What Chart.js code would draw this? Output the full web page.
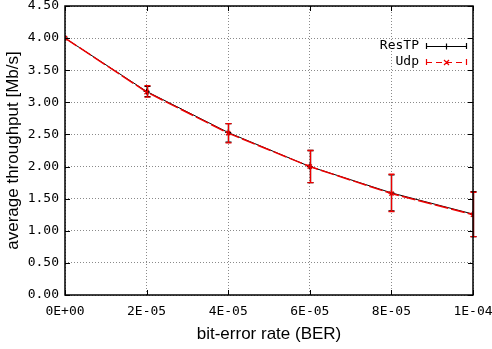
<!DOCTYPE html>
<html>
<head>
<meta charset="utf-8">
<script src="https://cdn.jsdelivr.net/npm/chart.js@4"></script>
<style>
  html, body { margin: 0; padding: 0; background: #fff; }
</style>
</head>
<body>
<canvas id="throughput-chart" width="492" height="349"></canvas>
<script>
// bit-error rate values (x axis)
const berValues = [0, 2e-5, 4e-5, 6e-5, 8e-5, 1e-4];
const xTickLabels = ['0E+00', '2E-05', '4E-05', '6E-05', '8E-05', '1E-04'];
const yTickValues = [0, 0.5, 1.0, 1.5, 2.0, 2.5, 3.0, 3.5, 4.0, 4.5];

// ResTP throughput + error bars
const restpMean = [4.00, 3.17, 2.53, 2.00, 1.59, 1.26];
const restpLow  = [4.00, 3.09, 2.38, 1.75, 1.31, 0.91];
const restpHigh = [4.00, 3.25, 2.67, 2.25, 1.87, 1.61];

// Udp throughput + error bars
const udpMean = [4.00, 3.16, 2.52, 2.00, 1.58, 1.25];
const udpLow  = [4.00, 3.08, 2.37, 1.75, 1.30, 0.91];
const udpHigh = [4.00, 3.26, 2.67, 2.25, 1.88, 1.60];

const monoFont = "'DejaVu Sans Mono', monospace";
const sansFont = "'Liberation Sans', Arial, sans-serif";
const udpRed = '#ee0000';

// draws error bars, frame, inward ticks and the gnuplot style key
const gnuplotBits = {
  id: 'gnuplotBits',
  afterDatasetsDraw(chart) {
    const ctx = chart.ctx;
    const xs = chart.scales.x, ys = chart.scales.y;
    const bars = [
      { low: restpLow, high: restpHigh, color: '#000000' },
      { low: udpLow, high: udpHigh, color: udpRed }
    ];
    ctx.save();
    bars.forEach(b => {
      ctx.strokeStyle = b.color;
      ctx.lineWidth = 1.3;
      berValues.forEach((v, i) => {
        if (b.high[i] - b.low[i] < 0.01) return;
        const x = Math.round(xs.getPixelForValue(v)) + 0.5;
        const y1 = ys.getPixelForValue(b.low[i]);
        const y2 = ys.getPixelForValue(b.high[i]);
        ctx.beginPath();
        ctx.moveTo(x, y1); ctx.lineTo(x, y2);
        ctx.moveTo(x - 3, y1); ctx.lineTo(x + 3, y1);
        ctx.moveTo(x - 3, y2); ctx.lineTo(x + 3, y2);
        ctx.stroke();
      });
    });
    ctx.restore();
  },
  afterDraw(chart) {
    const ctx = chart.ctx;
    const a = chart.chartArea;
    const xs = chart.scales.x, ys = chart.scales.y;
    ctx.save();
    ctx.strokeStyle = '#000';
    ctx.lineWidth = 1.5;
    ctx.strokeRect(a.left, a.top, a.right - a.left, a.bottom - a.top);

    // inward tick marks on all four sides
    ctx.lineWidth = 1;
    ctx.beginPath();
    yTickValues.forEach(v => {
      const y = Math.round(ys.getPixelForValue(v)) + 0.5;
      ctx.moveTo(a.left, y); ctx.lineTo(a.left + 5, y);
      ctx.moveTo(a.right, y); ctx.lineTo(a.right - 5, y);
    });
    berValues.forEach(v => {
      const x = Math.round(xs.getPixelForValue(v)) + 0.5;
      ctx.moveTo(x, a.bottom); ctx.lineTo(x, a.bottom - 5);
      ctx.moveTo(x, a.top); ctx.lineTo(x, a.top + 5);
    });
    ctx.stroke();

    // key
    ctx.font = '13px ' + monoFont;
    ctx.textAlign = 'right';
    ctx.textBaseline = 'middle';
    const keys = [
      { label: 'ResTP', color: '#000000', dash: [], y: 46 },
      { label: 'Udp', color: udpRed, dash: [6, 4], y: 62 }
    ];
    keys.forEach((k, i) => {
      ctx.fillStyle = '#000';
      ctx.fillText(k.label, 419, k.y);
      ctx.strokeStyle = k.color;
      ctx.lineWidth = 1.2;
      ctx.setLineDash(k.dash);
      ctx.beginPath();
      ctx.moveTo(426, k.y + 0.5); ctx.lineTo(467, k.y + 0.5);
      ctx.stroke();
      ctx.setLineDash([]);
      ctx.beginPath();
      ctx.moveTo(426.5, k.y - 3); ctx.lineTo(426.5, k.y + 3);
      ctx.moveTo(466.5, k.y - 3); ctx.lineTo(466.5, k.y + 3);
      if (i === 0) {
        ctx.moveTo(446.5, k.y - 2.5); ctx.lineTo(446.5, k.y + 3.5);
        ctx.moveTo(443.5, k.y + 0.5); ctx.lineTo(449.5, k.y + 0.5);
      } else {
        ctx.moveTo(444, k.y - 2); ctx.lineTo(449, k.y + 3);
        ctx.moveTo(449, k.y - 2); ctx.lineTo(444, k.y + 3);
      }
      ctx.stroke();
    });
    ctx.restore();
  }
};

const canvas = document.getElementById('throughput-chart');

new Chart(canvas, {
  type: 'line',
  data: {
    datasets: [
      {
        label: 'ResTP',
        data: berValues.map((x, i) => ({ x: x, y: restpMean[i] })),
        borderColor: '#000000',
        backgroundColor: '#000000',
        borderWidth: 1,
        pointStyle: 'cross',
        pointRadius: 3,
        pointBorderWidth: 1.2,
        tension: 0,
        order: 1
      },
      {
        label: 'Udp',
        data: berValues.map((x, i) => ({ x: x, y: udpMean[i] })),
        borderColor: udpRed,
        backgroundColor: udpRed,
        borderWidth: 1.5,
        borderDash: [14, 3],
        pointStyle: 'crossRot',
        pointRadius: 3,
        pointBorderWidth: 1.3,
        tension: 0,
        order: 0
      }
    ]
  },
  options: {
    responsive: false,
    animation: false,
    layout: { padding: 0 },
    plugins: {
      legend: { display: false },
      tooltip: { enabled: false }
    },
    scales: {
      x: {
        type: 'linear',
        min: 0,
        max: 1e-4,
        afterBuildTicks: s => { s.ticks = berValues.map(v => ({ value: v })); },
        afterFit: s => {
          s.height = 54;
          s.paddingLeft = 0;
          s.paddingRight = 19;
        },
        ticks: {
          padding: 9,
          color: '#000',
          font: { family: monoFont, size: 13 },
          maxRotation: 0,
          autoSkip: false,
          callback: (v, i) => xTickLabels[i]
        },
        grid: {
          color: '#8a8a8a',
          lineWidth: 1,
          drawTicks: false
        },
        border: { display: false, dash: [1, 2] },
        title: {
          display: true,
          text: 'bit-error rate (BER)',
          color: '#000',
          font: { family: sansFont, size: 17 },
          padding: { top: 0, bottom: 4 }
        }
      },
      y: {
        type: 'linear',
        min: 0,
        max: 4.5,
        afterBuildTicks: s => { s.ticks = yTickValues.map(v => ({ value: v })); },
        afterFit: s => {
          s.width = 65;
          s.paddingTop = 6;
          s.paddingBottom = 0;
        },
        ticks: {
          padding: 6,
          color: '#000',
          font: { family: monoFont, size: 13 },
          callback: v => v.toFixed(2)
        },
        grid: {
          color: '#8a8a8a',
          lineWidth: 1,
          drawTicks: false
        },
        border: { display: false, dash: [1, 2] },
        title: {
          display: true,
          text: 'average throughput [Mb/s]',
          color: '#000',
          font: { family: sansFont, size: 17 },
          padding: { top: 3, bottom: 0 }
        }
      }
    }
  },
  plugins: [gnuplotBits]
});
</script>
</body>
</html>
